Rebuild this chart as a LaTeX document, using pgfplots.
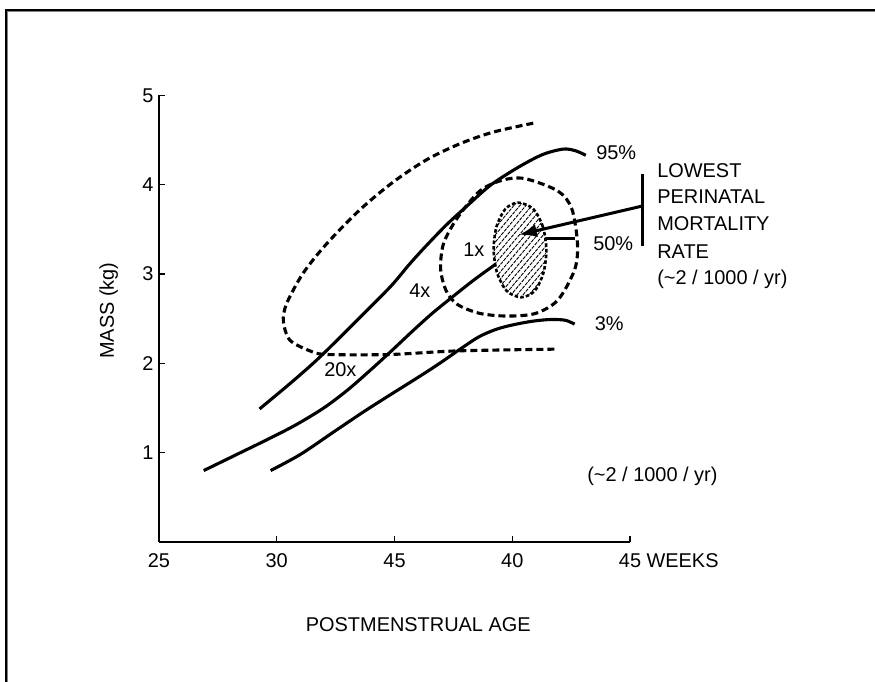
\documentclass[border=0pt]{standalone}
\usepackage{pgfplots}
\pgfplotsset{compat=1.18}
\usepackage{fontspec}
\setmainfont{Liberation Sans}
\usetikzlibrary{patterns.meta,arrows.meta}
\newcommand{\fz}{\fontsize{20}{27}\selectfont}
\begin{document}
\begin{tikzpicture}[x=1bp,y=1bp]
\useasboundingbox (-159,-140) rectangle (716,542);
\fill[white] (-159,-140) rectangle (716,542);
\draw[black, line width=1.6bp] (-152.7,-141) -- (-152.7,532.2) -- (717,532.2);
\draw[gray, line width=1.2bp] (-151.3,-141) -- (-151.3,530.8) -- (717,530.8);
\begin{axis}[
  at={(0,0)}, anchor=south west,
  scale only axis, width=471bp, height=446.5bp,
  xmin=25, xmax=45, ymin=0, ymax=5,
  axis x line=bottom, axis y line=left,
  axis line style={-, line width=1.6bp},
  xtick={25,30,35,40,45},
  xticklabels={25,30,45,40,45\rlap{ WEEKS}},
  ytick={1,2,3,4,5},
  tick align=inside,
  major tick length=6bp,
  tick style={line width=1.4bp, black},
  clip=false,
  /pgf/number format/assume math mode=true,
  ticklabel style={font=\fz},
  xticklabel style={yshift=-8bp},
  yticklabel style={xshift=-2bp},
]
% large dashed loop
\addplot[black, line width=3.1bp, dash pattern=on 7bp off 4bp, smooth] coordinates {
 (40.89,4.69) (39.19,4.59) (37.78,4.46) (36.36,4.28) (34.94,4.03) (33.53,3.72)
 (32.12,3.34) (31.12,3.01) (30.42,2.67) (30.28,2.47) (30.56,2.26) (31.41,2.14)
 (32.12,2.10) (34.83,2.10) (37.67,2.14) (41.94,2.16)};
% 95% curve
\addplot[black, line width=3.1bp, smooth] coordinates {
 (29.27,1.49) (30.5,1.76) (31.5,1.99) (32.22,2.17) (33.4,2.48) (34.83,2.86)
 (35.6,3.10) (36.25,3.29) (37.2,3.55) (38.15,3.78) (39.1,4.00) (40.28,4.20)
 (41.3,4.34) (42.17,4.40) (42.7,4.38) (43.12,4.33)};
% 50% curve
\addplot[black, line width=3.1bp, smooth] coordinates {
 (26.90,0.80) (28.3,0.98) (29.62,1.15) (30.8,1.31) (31.99,1.50) (33.0,1.70)
 (34.0,1.93) (34.83,2.13) (35.8,2.37) (36.6,2.56) (37.44,2.74) (38.4,2.94) (39.4,3.13)};
\addplot[black, line width=3.1bp] coordinates {(41.31,3.40) (42.68,3.40)};
% 3% curve
\addplot[black, line width=3.1bp, smooth] coordinates {
 (29.74,0.80) (31.0,0.98) (32.46,1.24) (33.7,1.46) (34.83,1.65) (35.8,1.81)
 (36.8,1.98) (37.9,2.18) (38.6,2.30) (39.3,2.38) (40.0,2.43) (40.8,2.47)
 (41.5,2.49) (42.0,2.49) (42.3,2.48) (42.65,2.44)};
% medium dashed ellipse
\addplot[black, line width=3.1bp, dash pattern=on 7bp off 4bp, smooth cycle] coordinates {
 (40.52,4.07) (41.94,3.93) (42.53,3.73) (42.77,3.34) (42.65,3.05) (41.94,2.71)
 (40.99,2.56) (39.80,2.53) (38.62,2.56) (37.67,2.66) (37.20,2.81) (36.96,3.05)
 (37.08,3.34) (37.67,3.63) (38.62,3.93) (39.56,4.05)};
% hatched ellipse
\addplot[draw=none, fill=white, smooth cycle] coordinates {
 (41.45,3.27) (41.30,3.53) (40.89,3.73) (40.25,3.80) (39.71,3.73) (39.33,3.53)
 (39.21,3.27) (39.36,3.01) (39.77,2.81) (40.38,2.74) (40.95,2.81) (41.32,3.01)};
\addplot[black, line width=2.6bp, dash pattern=on 3.5bp off 2.2bp,
  pattern={Lines[angle=50,distance=4.6bp,line width=0.9bp]}, smooth cycle] coordinates {
 (41.45,3.27) (41.30,3.53) (40.89,3.73) (40.25,3.80) (39.71,3.73) (39.33,3.53)
 (39.21,3.27) (39.36,3.01) (39.77,2.81) (40.38,2.74) (40.95,2.81) (41.32,3.01)};
% arrow and bar
\addplot[black, line width=3bp, -{Latex[length=18bp,width=13bp]}] coordinates {(45.49,3.76) (40.28,3.44)};
\addplot[black, line width=3.2bp] coordinates {(45.54,4.12) (45.54,3.32)};
% labels
\node[anchor=west, font=\fz] at (axis cs:43.42,4.36) {95\%};
\node[anchor=west, font=\fz] at (axis cs:43.29,3.34) {50\%};
\node[anchor=west, font=\fz] at (axis cs:43.36,2.44) {3\%};
\node[font=\fz] at (axis cs:38.37,3.27) {1x};
\node[font=\fz] at (axis cs:36.08,2.82) {4x};
\node[font=\fz] at (axis cs:32.70,1.93) {20x};
\node[anchor=base west, font=\fz] at (axis cs:46.01,4.087) {LOWEST};
\node[anchor=base west, font=\fz] at (axis cs:46.01,3.785) {PERINATAL};
\node[anchor=base west, font=\fz] at (axis cs:46.01,3.483) {MORTALITY};
\node[anchor=base west, font=\fz] at (axis cs:46.01,3.180) {RATE};
\node[anchor=base west, font=\fz] at (axis cs:46.01,2.878) {(\textasciitilde2 / 1000 / yr)};
\node[font=\fz] at (axis cs:45.95,0.73) {(\textasciitilde2 / 1000 / yr)};
\node[font=\fz, rotate=90] at (axis cs:22.87,2.59) {MASS (kg)};
\node[font=\fz] at (axis cs:36.01,-0.93) {POSTMENSTRUAL AGE};
\end{axis}
\end{tikzpicture}
\end{document}
